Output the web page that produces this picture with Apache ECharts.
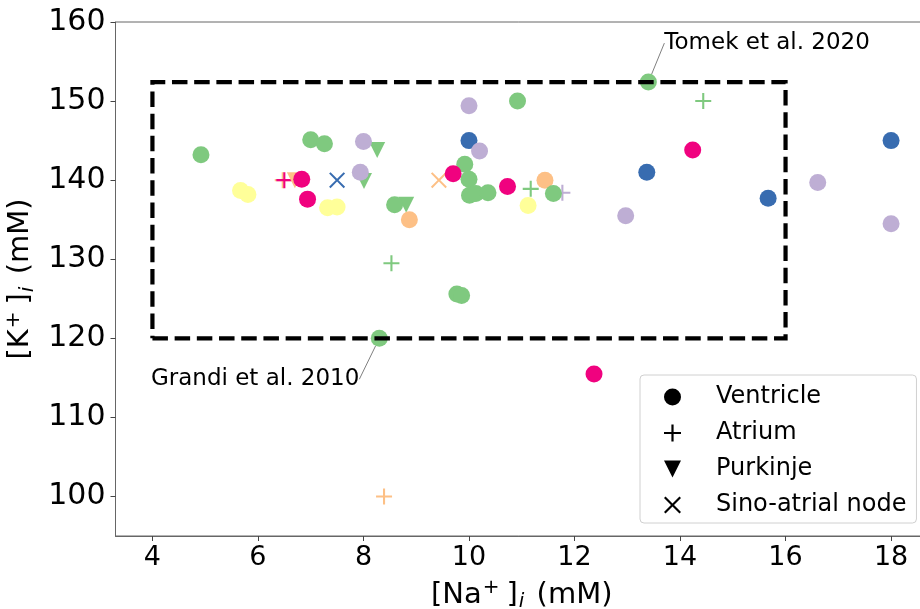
<!DOCTYPE html>
<html>
<head>
<meta charset="utf-8">
<script src="https://cdn.jsdelivr.net/npm/echarts@6/dist/echarts.min.js"></script>
<style>
  html, body { margin: 0; padding: 0; background: #fff; }
  #chart { width: 920px; height: 609px; }
</style>
</head>
<body>
<div id="chart"></div>
<script>
// Intracellular Na+ vs K+ concentrations of cardiac cell models, by cell type.

const palette = {
  g: '#7fc97f', l: '#beaed4', o: '#fdc086',
  y: '#ffff99', b: '#386cb0', m: '#f0027f'
};

// Ventricle models
const ventNa = [4.92, 7.00, 7.26, 8.00, 7.94, 6.83, 6.94, 5.67, 5.81, 7.32,
                7.50, 8.59, 8.87, 10.0, 10.92, 10.0, 10.2, 9.92, 9.70, 10.0,
                10.01, 10.13, 10.36, 10.73, 11.44, 11.60, 11.12, 13.4, 14.24, 13.37,
                12.97, 15.67, 16.61, 18.0, 18.0, 9.77, 9.86, 8.3, 12.37];
const ventK  = [143.2, 145.1, 144.6, 144.9, 141.0, 140.1, 137.6, 138.7, 138.2, 136.5,
                136.6, 136.9, 135.0, 149.4, 150.0, 145.0, 143.7, 142.0, 140.8, 140.1,
                138.1, 138.3, 138.4, 139.2, 140.0, 138.3, 136.8, 152.4, 143.8, 141.0,
                135.5, 137.7, 139.7, 145.0, 134.5, 125.6, 125.4, 120.0, 115.5];
const ventColor = ['g', 'g', 'g', 'l', 'l', 'm', 'm', 'y', 'y', 'y',
                   'y', 'g', 'o', 'l', 'g', 'b', 'l', 'g', 'm', 'g',
                   'g', 'g', 'g', 'm', 'o', 'g', 'y', 'g', 'm', 'b',
                   'l', 'b', 'l', 'b', 'l', 'g', 'g', 'g', 'm'];
// Named reference models
const notes = { 27: 'Tomek et al. 2020', 37: 'Grandi et al. 2010' };

// Atrium models
const atrNa = [6.47, 6.5, 11.17, 11.77, 14.44, 8.53, 8.39];
const atrK  = [140.0, 140.0, 138.9, 138.4, 150.0, 129.5, 100.0];
const atrColor = ['o', 'm', 'g', 'l', 'g', 'g', 'o'];

// Purkinje models
const purNa = [8.26, 8.01, 8.81, 6.70];
const purK  = [143.8, 139.9, 136.9, 140.0];
const purColor = ['g', 'g', 'g', 'o'];

// Sino-atrial node models
const sanNa = [7.50, 9.43];
const sanK  = [140.0, 140.0];
const sanColor = ['b', 'o'];

// Physiological range box
const boxNa = [4, 16];
const boxK = [120, 152.4];

const xTicks = [4, 6, 8, 10, 12, 14, 16, 18];
const yTicks = [100, 110, 120, 130, 140, 150, 160];

const FONT = 'DejaVu Sans';
const PLUS = 'path://M4.35,0h1.3v4.35h4.35v1.3h-4.35v4.35h-1.3v-4.35h-4.35v-1.3h4.35z';
const CROSS = 'path://M0,0.9L0.9,0L5,4.1L9.1,0L10,0.9L5.9,5L10,9.1L9.1,10L5,5.9L0.9,10L0,9.1L4.1,5Z';
const TRI_DOWN = 'path://M0,0L10,0L5,10Z';

function points(na, k, col) {
  return na.map((x, i) => ({ value: [x, k[i]], itemStyle: { color: palette[col[i]] } }));
}

const ventData = points(ventNa, ventK, ventColor);
Object.keys(notes).forEach(idx => {
  const right = ventK[idx] > 150;
  ventData[idx].label = {
    show: true,
    formatter: notes[idx],
    position: 'inside',
    align: right ? 'left' : 'right',
    verticalAlign: 'middle',
    offset: right ? [16, -39] : [-20, 41],
    fontFamily: FONT, fontSize: 23, color: '#000'
  };
  ventData[idx].labelLine = { show: true, lineStyle: { color: '#808080', width: 1 } };
});

const boxData = [[boxNa[0], boxK[0]], [boxNa[1], boxK[0]], [boxNa[1], boxK[1]],
                 [boxNa[0], boxK[1]], [boxNa[0], boxK[0]]];

const titleRich = {
  sup: { fontFamily: FONT, fontSize: 20, verticalAlign: 'top', padding: [0, 7, 0, 1] },
  sub: { fontFamily: FONT, fontSize: 20, fontStyle: 'italic', verticalAlign: 'bottom', padding: [0, 3, 0, 1] }
};

const option = {
  animation: false,
  backgroundColor: '#fff',
  grid: { left: 115.5, top: 22, right: -8, bottom: 73, show: true,
          outerBoundsMode: 'none', containLabel: false,
          borderColor: '#666', borderWidth: 1, backgroundColor: 'transparent' },
  xAxis: {
    type: 'value', min: 3.3, max: 18.7,
    name: '[Na{sup|+}]{sub|i} (mM)', nameLocation: 'middle', nameGap: 42,
    nameTextStyle: { fontFamily: FONT, fontSize: 29, color: '#000', lineHeight: 34, rich: titleRich },
    axisLine: { show: true, lineStyle: { color: '#666', width: 1 } },
    axisTick: { show: true, inside: false, length: 5, customValues: xTicks, lineStyle: { color: '#444' } },
    axisLabel: { customValues: xTicks, fontFamily: FONT, fontSize: 27, color: '#000', margin: 8 },
    splitLine: { show: false }
  },
  yAxis: {
    type: 'value', min: 95, max: 160,
    name: '[K{sup|+}]{sub|i} (mM)', nameLocation: 'middle', nameGap: 64, nameRotate: 90,
    nameTextStyle: { fontFamily: FONT, fontSize: 29, color: '#000', lineHeight: 34, rich: titleRich },
    axisLine: { show: true, lineStyle: { color: '#666', width: 1 } },
    axisTick: { show: true, inside: false, length: 5, customValues: yTicks, lineStyle: { color: '#444' } },
    axisLabel: { customValues: yTicks, fontFamily: FONT, fontSize: 30, color: '#000', margin: 10 },
    splitLine: { show: false }
  },
  legend: {
    orient: 'vertical', left: 640, top: 375,
    data: ['Ventricle', 'Atrium', 'Purkinje', 'Sino-atrial node'],
    itemWidth: 17, itemHeight: 17, itemGap: 12,
    padding: [10, 10, 6, 24],
    borderColor: '#d0d0d0', borderWidth: 1, borderRadius: 4, backgroundColor: '#fff',
    textStyle: { fontFamily: FONT, fontSize: 24, color: '#000', padding: [0, 0, 0, 30] }
  },
  series: [
    { name: 'Atrium', type: 'scatter', symbol: PLUS, symbolSize: 16, z: 2,
      itemStyle: { color: '#000', opacity: 1 }, data: points(atrNa, atrK, atrColor) },
    { name: 'Purkinje', type: 'scatter', symbol: TRI_DOWN, symbolSize: 16, z: 2,
      itemStyle: { color: '#000', opacity: 1 }, data: points(purNa, purK, purColor) },
    { name: 'Sino-atrial node', type: 'scatter', symbol: CROSS, symbolSize: 16, z: 2,
      itemStyle: { color: '#000', opacity: 1 }, data: points(sanNa, sanK, sanColor) },
    { name: 'Ventricle', type: 'scatter', symbol: 'circle', symbolSize: 17, z: 3,
      itemStyle: { color: '#000', opacity: 1 }, data: ventData },
    { name: 'range', type: 'line', data: boxData, z: 5, symbol: 'none', silent: true,
      lineStyle: { color: '#000', width: 4.2, type: [15.5, 6.7], cap: 'butt', join: 'miter' } }
  ]
};

echarts.init(document.getElementById('chart'), null, { renderer: 'canvas' }).setOption(option);
</script>
</body>
</html>
